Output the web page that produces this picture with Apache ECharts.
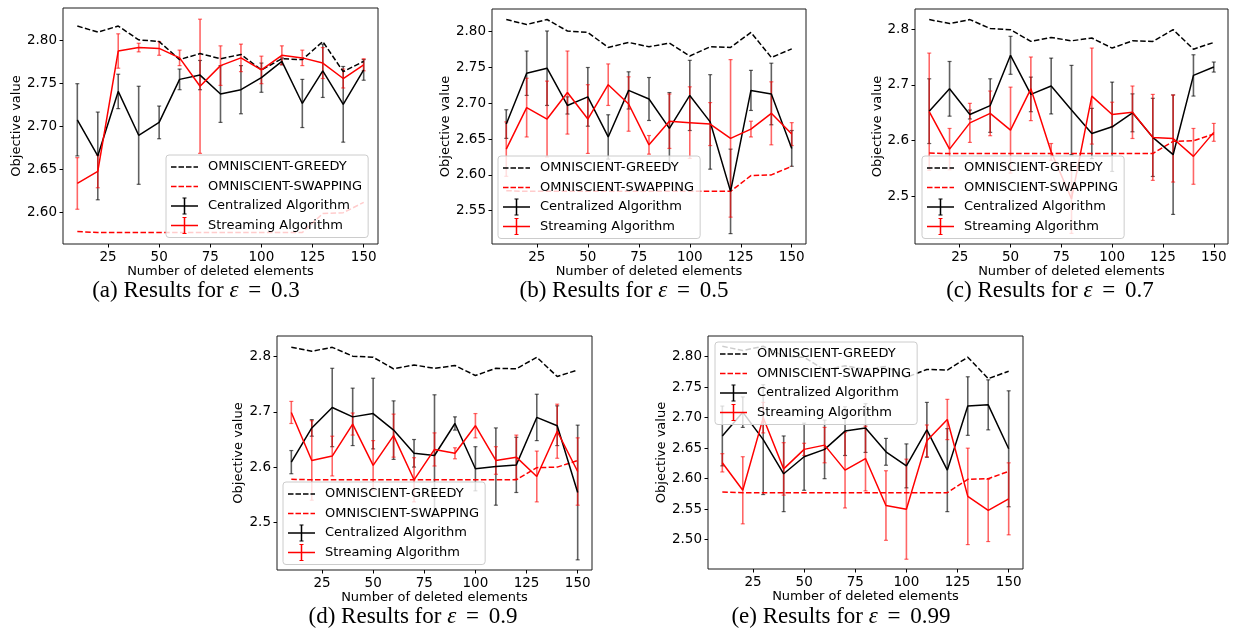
<!DOCTYPE html>
<html>
<head>
<meta charset="utf-8">
<script src="https://cdn.jsdelivr.net/npm/echarts@6/dist/echarts.min.js"></script>
<style>
html,body{margin:0;padding:0;background:#fff;}
#chart{width:1233px;height:639px;}
</style>
</head>
<body>
<div id="chart"></div>
<script>
// ---------- data ----------
const xValues = [10, 20, 30, 40, 50, 60, 70, 80, 90, 100, 110, 120, 130, 140, 150];
const xTicks = [25, 50, 75, 100, 125, 150];

const greedy   = [2.817, 2.810, 2.817, 2.801, 2.799, 2.778, 2.785, 2.779, 2.784, 2.766, 2.779, 2.778, 2.799, 2.764, 2.776];
const swapping = [2.578, 2.577, 2.577, 2.577, 2.577, 2.577, 2.577, 2.577, 2.577, 2.577, 2.577, 2.577, 2.599, 2.600, 2.612];

// (a) eps = 0.3
const centralA    = [2.708, 2.666, 2.741, 2.690, 2.705, 2.755, 2.760, 2.738, 2.743, 2.757, 2.776, 2.727, 2.765, 2.726, 2.766];
const centralErrA = [0.042, 0.051, 0.020, 0.057, 0.019, 0.012, 0.017, 0.033, 0.028, 0.017, 0.004, 0.028, 0.031, 0.044, 0.012];
const streamA     = [2.634, 2.648, 2.788, 2.792, 2.791, 2.780, 2.747, 2.771, 2.780, 2.766, 2.783, 2.780, 2.774, 2.756, 2.772];
const streamErrA  = [0.030, 0.019, 0.020, 0.005, 0.008, 0.009, 0.078, 0.023, 0.016, 0.016, 0.011, 0.009, 0.018, 0.011, 0.007];

// (b) eps = 0.5
const centralB    = [2.671, 2.742, 2.749, 2.697, 2.709, 2.653, 2.718, 2.706, 2.665, 2.711, 2.674, 2.577, 2.718, 2.713, 2.637];
const centralErrB = [0.020, 0.031, 0.052, 0.012, 0.041, 0.031, 0.026, 0.030, 0.050, 0.049, 0.066, 0.059, 0.028, 0.043, 0.025];
const streamB     = [2.636, 2.694, 2.678, 2.715, 2.678, 2.726, 2.699, 2.642, 2.675, 2.673, 2.671, 2.651, 2.664, 2.686, 2.657];
const streamErrB  = [0.038, 0.041, 0.053, 0.058, 0.048, 0.029, 0.038, 0.013, 0.038, 0.050, 0.030, 0.110, 0.011, 0.044, 0.016];

// (c) eps = 0.7
const centralC    = [2.653, 2.693, 2.647, 2.663, 2.753, 2.683, 2.698, 2.655, 2.613, 2.625, 2.650, 2.606, 2.575, 2.717, 2.732];
const centralErrC = [0.058, 0.049, 0.008, 0.048, 0.034, 0.031, 0.050, 0.080, 0.045, 0.080, 0.034, 0.070, 0.107, 0.037, 0.009];
const streamC     = [2.652, 2.585, 2.632, 2.649, 2.619, 2.693, 2.580, 2.496, 2.680, 2.647, 2.651, 2.606, 2.604, 2.572, 2.615];
const streamErrC  = [0.105, 0.037, 0.035, 0.040, 0.077, 0.057, 0.015, 0.062, 0.086, 0.022, 0.047, 0.077, 0.078, 0.050, 0.016];

// (d) eps = 0.9
const centralD    = [2.609, 2.671, 2.708, 2.691, 2.697, 2.667, 2.625, 2.621, 2.679, 2.597, 2.601, 2.604, 2.690, 2.675, 2.554];
const centralErrD = [0.021, 0.015, 0.071, 0.052, 0.064, 0.053, 0.025, 0.110, 0.012, 0.040, 0.070, 0.050, 0.042, 0.036, 0.122];
const streamD     = [2.699, 2.612, 2.620, 2.678, 2.603, 2.657, 2.577, 2.632, 2.625, 2.675, 2.612, 2.618, 2.583, 2.665, 2.592];
const streamErrD  = [0.020, 0.072, 0.036, 0.020, 0.045, 0.039, 0.040, 0.030, 0.010, 0.022, 0.025, 0.040, 0.046, 0.049, 0.061];

// (e) eps = 0.99
const centralE    = [2.670, 2.709, 2.664, 2.608, 2.636, 2.648, 2.678, 2.683, 2.644, 2.621, 2.680, 2.614, 2.719, 2.721, 2.649];
const centralErrE = [0.049, 0.025, 0.090, 0.062, 0.055, 0.048, 0.040, 0.040, 0.022, 0.036, 0.045, 0.068, 0.048, 0.041, 0.095];
const streamE     = [2.626, 2.581, 2.700, 2.616, 2.648, 2.655, 2.614, 2.633, 2.556, 2.550, 2.662, 2.697, 2.571, 2.548, 2.567];
const streamErrE  = [0.015, 0.055, 0.025, 0.043, 0.010, 0.029, 0.062, 0.053, 0.057, 0.082, 0.026, 0.033, 0.079, 0.051, 0.059];

const yTicksA = [2.60, 2.65, 2.70, 2.75, 2.80];
const yTicksB = [2.55, 2.60, 2.65, 2.70, 2.75, 2.80];
const yTicksC = [2.5, 2.6, 2.7, 2.8];
const yTicksD = [2.5, 2.6, 2.7, 2.8];
const yTicksE = [2.50, 2.55, 2.60, 2.65, 2.70, 2.75, 2.80];

const seriesNames = ['OMNISCIENT-GREEDY', 'OMNISCIENT-SWAPPING', 'Centralized Algorithm', 'Streaming Algorithm'];
const panelLetters = ['a', 'b', 'c', 'd', 'e'];
const epsilons = ['0.3', '0.5', '0.7', '0.9', '0.99'];
const xTitle = 'Number of deleted elements';
const yTitle = 'Objective value';

// ---------- layout ----------
const panels = [
  {grid:{left:63, top:8, width:315, height:236},  y:[2.5636, 2.838], ticks:yTicksA, dec:2, yGap:40, legend:{left:166, top:155}, cap:[196, 291],
   c:centralA, ce:centralErrA, s:streamA, se:streamErrA},
  {grid:{left:492, top:9, width:314, height:235}, y:[2.5035, 2.8317], ticks:yTicksB, dec:2, yGap:39, legend:{left:498, top:156}, cap:[624, 291],
   c:centralB, ce:centralErrB, s:streamB, se:streamErrB},
  {grid:{left:915, top:9, width:313, height:235}, y:[2.415, 2.836], ticks:yTicksC, dec:1, yGap:31, legend:{left:922, top:156}, cap:[1050, 291],
   c:centralC, ce:centralErrC, s:streamC, se:streamErrC},
  {grid:{left:277, top:336, width:315, height:234}, y:[2.4136, 2.8375], ticks:yTicksD, dec:1, yGap:32, legend:{left:283, top:482}, cap:[413, 617],
   c:centralD, ce:centralErrD, s:streamD, se:streamErrD},
  {grid:{left:708, top:336, width:315, height:233}, y:[2.452, 2.8338], ticks:yTicksE, dec:2, yGap:38, legend:{left:715, top:342}, cap:[841, 617],
   c:centralE, ce:centralErrE, s:streamE, se:streamErrE}
];

const FONT = 'DejaVu Sans';
const SERIF = 'Liberation Serif';
const BLACK = '#000000';
const RED = '#ff0000';
const DASH = [5.5, 2.4];

const dashIcon = 'path://M0 0h0.01v0.01h-0.01z M31.99 17.99h0.01v0.01h-0.01z M0 8.25h5.5v1.5h-5.5z M7.5 8.25h5.5v1.5h-5.5z M15 8.25h5.5v1.5h-5.5z M22.5 8.25h4.5v1.5h-4.5z';
const errIcon = 'path://M0 0h0.01v0.01h-0.01z M31.99 17.99h0.01v0.01h-0.01z M0 8.25h27v1.5h-27z M12.75 0.5h1.5v17h-1.5z M11.5 0.5h4v1h-4z M11.5 16.5h4v1h-4z';

function errRender(color) {
  return function (params, api) {
    const x = api.value(0), m = api.value(1), e = api.value(2);
    const t = api.coord([x, m + e]);
    const b = api.coord([x, m - e]);
    const cw = 2;
    return {type: 'group', children: [
      {type: 'line', shape: {x1: t[0], y1: t[1], x2: b[0], y2: b[1]}, style: {stroke: color, lineWidth: 1.6}},
      {type: 'line', shape: {x1: t[0] - cw, y1: t[1], x2: t[0] + cw, y2: t[1]}, style: {stroke: color, lineWidth: 1.2}},
      {type: 'line', shape: {x1: b[0] - cw, y1: b[1], x2: b[0] + cw, y2: b[1]}, style: {stroke: color, lineWidth: 1.2}}
    ]};
  };
}

const grids = [], xAxes = [], yAxes = [], series = [], legends = [], graphics = [];

panels.forEach((p, i) => {
  grids.push(Object.assign({show: true, borderColor: '#1a1a1a', borderWidth: 1, backgroundColor: '#fff', containLabel: false, outerBoundsMode: 'none'}, p.grid));
  xAxes.push({
    type: 'value', gridIndex: i, min: 3, max: 157,
    name: xTitle, nameLocation: 'middle', nameGap: 21,
    nameTextStyle: {fontFamily: FONT, fontSize: 13, color: '#000'},
    axisLine: {show: false},
    axisTick: {show: true, length: 3.5, lineStyle: {color: '#000', width: 1}, customValues: xTicks},
    axisLabel: {fontFamily: FONT, fontSize: 13.5, color: '#000', margin: 6, customValues: xTicks},
    splitLine: {show: false}
  });
  yAxes.push({
    type: 'value', gridIndex: i, min: p.y[0], max: p.y[1],
    name: yTitle, nameLocation: 'middle', nameGap: p.yGap, nameRotate: 90,
    nameTextStyle: {fontFamily: FONT, fontSize: 13, color: '#000'},
    axisLine: {show: false},
    axisTick: {show: true, length: 3.5, lineStyle: {color: '#000', width: 1}, customValues: p.ticks},
    axisLabel: {fontFamily: FONT, fontSize: 13.5, color: '#000', margin: 6, customValues: p.ticks,
      formatter: (v) => Number(v).toFixed(p.dec)},
    splitLine: {show: false}
  });
  const pair = (arr) => xValues.map((x, k) => [x, arr[k]]);
  const trip = (m, e) => xValues.map((x, k) => [x, m[k], e[k]]);
  series.push({
    type: 'line', name: seriesNames[0], xAxisIndex: i, yAxisIndex: i, data: pair(greedy),
    symbol: 'none', lineStyle: {color: BLACK, width: 1.5, type: DASH}, itemStyle: {color: BLACK}, animation: false, silent: true
  });
  series.push({
    type: 'line', name: seriesNames[1], xAxisIndex: i, yAxisIndex: i, data: pair(swapping),
    symbol: 'none', lineStyle: {color: RED, width: 1.5, type: DASH}, itemStyle: {color: RED}, animation: false, silent: true
  });
  series.push({
    type: 'custom', name: seriesNames[2], xAxisIndex: i, yAxisIndex: i, data: trip(p.c, p.ce),
    dimensions: ['x', 'm', 'e'], encode: {x: 0, y: 1}, renderItem: errRender('rgba(0,0,0,0.62)'),
    itemStyle: {color: BLACK}, clip: true, animation: false, silent: true
  });
  series.push({
    type: 'line', name: seriesNames[2], xAxisIndex: i, yAxisIndex: i, data: pair(p.c),
    symbol: 'none', lineStyle: {color: BLACK, width: 1.5}, itemStyle: {color: BLACK}, animation: false, silent: true
  });
  series.push({
    type: 'custom', name: seriesNames[3], xAxisIndex: i, yAxisIndex: i, data: trip(p.s, p.se),
    dimensions: ['x', 'm', 'e'], encode: {x: 0, y: 1}, renderItem: errRender('rgba(255,0,0,0.6)'),
    itemStyle: {color: RED}, clip: true, animation: false, silent: true
  });
  series.push({
    type: 'line', name: seriesNames[3], xAxisIndex: i, yAxisIndex: i, data: pair(p.s),
    symbol: 'none', lineStyle: {color: RED, width: 1.5}, itemStyle: {color: RED}, animation: false, silent: true
  });
  legends.push({
    orient: 'vertical', left: p.legend.left, top: p.legend.top,
    padding: [3, 6, 3, 5], itemGap: 1.5, itemWidth: 32, itemHeight: 18,
    backgroundColor: 'rgba(255,255,255,0.8)', borderColor: '#cccccc', borderWidth: 1, borderRadius: 3,
    selectedMode: false, itemStyle: {borderWidth: 0}, symbolKeepAspect: true,
    textStyle: {fontFamily: FONT, fontSize: 13, color: '#000'},
    data: [
      {name: seriesNames[0], icon: dashIcon, itemStyle: {color: BLACK, borderWidth: 0}},
      {name: seriesNames[1], icon: dashIcon, itemStyle: {color: RED, borderWidth: 0}},
      {name: seriesNames[2], icon: errIcon, itemStyle: {color: BLACK, borderWidth: 0}},
      {name: seriesNames[3], icon: errIcon, itemStyle: {color: RED, borderWidth: 0}}
    ]
  });
  graphics.push({
    type: 'text', x: p.cap[0], y: p.cap[1], silent: true,
    style: {
      text: '(' + panelLetters[i] + ') Results for {e|ε} {q|=} ' + epsilons[i],
      rich: {
        e: {fontFamily: SERIF, fontStyle: 'italic', fontSize: 23, fill: '#000'},
        q: {fontFamily: SERIF, fontSize: 23, fill: '#000', padding: [0, 4, 0, 4]}
      },
      fontFamily: SERIF, fontSize: 23, fill: '#000',
      align: 'center', verticalAlign: 'middle', textAlign: 'center', textVerticalAlign: 'middle'
    }
  });
});

const chart = echarts.init(document.getElementById('chart'), null, {renderer: 'canvas'});
chart.setOption({
  backgroundColor: '#ffffff',
  animation: false,
  grid: grids,
  xAxis: xAxes,
  yAxis: yAxes,
  legend: legends,
  series: series,
  graphic: graphics
});
</script>
</body>
</html>
